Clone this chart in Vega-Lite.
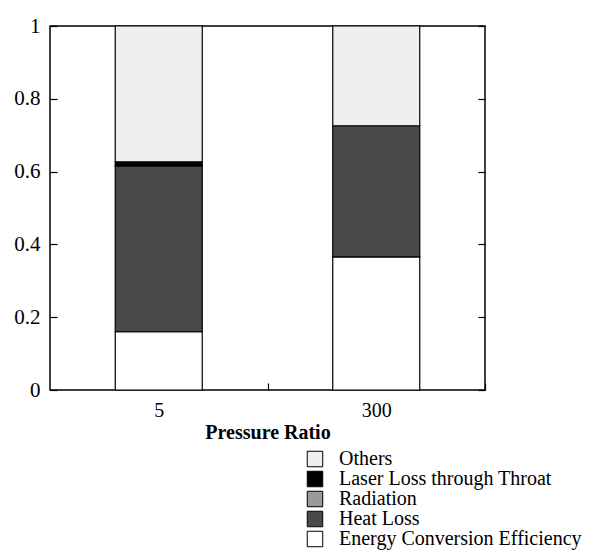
{
  "$schema": "https://vega.github.io/schema/vega-lite/v6.json",
  "autosize": {"type": "none"},
  "width": 435,
  "height": 364,
  "padding": {"left": 50, "top": 26, "right": 116, "bottom": 162},
  "background": "white",
  "config": {
    "font": "Liberation Serif",
    "view": {"stroke": "black", "strokeWidth": 1.5},
    "axis": {"labelFont": "Liberation Serif", "titleFont": "Liberation Serif", "labelColor": "black", "titleColor": "black", "domain": false, "grid": false, "tickColor": "black", "tickWidth": 1.2}
  },
  "data": {"values": [
    {"ratio": "5", "component": "Energy Conversion Efficiency", "k": 1, "value": 0.16},
    {"ratio": "5", "component": "Heat Loss", "k": 2, "value": 0.455},
    {"ratio": "5", "component": "Radiation", "k": 3, "value": 0.002},
    {"ratio": "5", "component": "Laser Loss through Throat", "k": 4, "value": 0.01},
    {"ratio": "5", "component": "Others", "k": 5, "value": 0.373},
    {"ratio": "300", "component": "Energy Conversion Efficiency", "k": 1, "value": 0.366},
    {"ratio": "300", "component": "Heat Loss", "k": 2, "value": 0.36},
    {"ratio": "300", "component": "Others", "k": 5, "value": 0.274}
  ]},
  "encoding": {
    "x": {"field": "ratio", "type": "nominal", "sort": ["5", "300"],
      "scale": {"paddingInner": 0.6, "paddingOuter": 0.3},
      "axis": {"title": "Pressure Ratio", "titleFontSize": 20, "titleFontWeight": "bold", "labelFontSize": 20, "labelAngle": 0, "tickOffset": 108.75, "labelOffset": -108.75, "tickSize": -7, "labelPadding": 17, "titlePadding": 2}},
    "y": {"field": "value", "type": "quantitative", "aggregate": "sum", "stack": "zero",
      "scale": {"domain": [0, 1], "nice": false}},
    "order": {"field": "k", "type": "ordinal", "sort": "ascending"}
  },
  "layer": [
    {
      "mark": {"type": "bar", "stroke": "black", "strokeWidth": 1.2},
      "encoding": {
        "y": {"field": "value", "type": "quantitative", "aggregate": "sum", "stack": "zero",
          "scale": {"domain": [0, 1], "nice": false},
          "axis": {"orient": "left", "title": null, "values": [0, 0.2, 0.4, 0.6, 0.8, 1], "format": "~g", "labelFontSize": 21, "tickSize": -7, "labelPadding": 17}},
        "fill": {"field": "component", "type": "nominal",
          "scale": {"domain": ["Others", "Laser Loss through Throat", "Radiation", "Heat Loss", "Energy Conversion Efficiency"],
            "range": ["#efefef", "#000000", "#9a9a9a", "#4a4a4a", "#ffffff"]},
          "legend": {"title": null, "orient": "none", "legendX": 255, "legendY": 423, "labelFontSize": 20, "labelFont": "Liberation Serif", "labelColor": "black", "labelLimit": 400, "symbolType": "square", "symbolSize": 240, "symbolStrokeColor": "black", "symbolStrokeWidth": 1, "rowPadding": 0, "labelOffset": 14}}
      }
    },
    {
      "mark": {"type": "bar", "opacity": 0},
      "encoding": {
        "y": {"field": "value", "type": "quantitative", "aggregate": "sum", "stack": "zero",
          "scale": {"domain": [0, 1], "nice": false},
          "axis": {"orient": "right", "title": null, "values": [0, 0.2, 0.4, 0.6, 0.8, 1], "labels": false, "tickSize": -7}}
      }
    }
  ],
  "resolve": {"axis": {"y": "independent"}}
}
